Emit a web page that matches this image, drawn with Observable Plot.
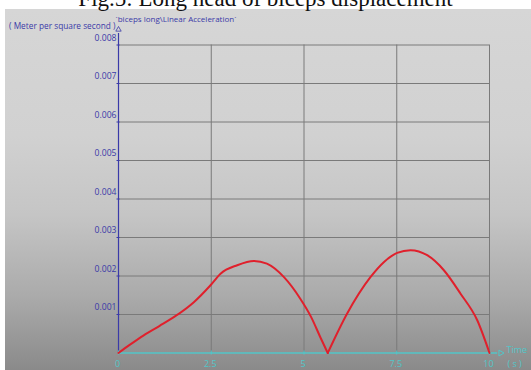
<!DOCTYPE html>
<html>
<head>
<meta charset="utf-8">
<script src="https://cdn.jsdelivr.net/npm/d3@7"></script>
<script src="https://cdn.jsdelivr.net/npm/@observablehq/plot@0.6"></script>
<style>
  body { margin: 0; background: #fff; }
  #wrap { position: relative; width: 531px; height: 370px; overflow: hidden; }
  #panel {
    position: absolute; left: 5px; top: 9px; right: 0; bottom: 0;
    background: linear-gradient(to bottom, #d6d6d6 0%, #d1d1d1 35%, #c5c5c5 57%, #aaaaaa 80%, #8a8a8a 100%);
  }
  #caption {
    position: absolute; left: 0; width: 531px; top: -13px; text-align: center;
    font: 23px/23px "Liberation Serif", serif; color: #111; white-space: nowrap;
  }
  #chart { position: absolute; left: 0; top: 0; }
</style>
</head>
<body>
<div id="wrap">
  <div id="panel"></div>
  <div id="caption">Fig.5: Long head of biceps displacement</div>
  <div id="chart"></div>
</div>
<script>
// Linear acceleration of the long head of biceps, first swing (t = 0 .. cusp)
const swing1Time  = [0, 0.3, 0.68, 1.1, 1.49, 2.03, 2.48, 2.75, 3.2, 3.65, 4.0, 4.46, 4.9, 5.2, 5.44, 5.64];
const swing1Accel = [0, 0.00021, 0.00046, 0.0007, 0.00093, 0.00132, 0.00176, 0.00206, 0.00228, 0.00239, 0.00232, 0.00197, 0.00141, 0.00092, 0.00041, 0];
// second swing (cusp .. t = 10)
const swing2Time  = [5.64, 6.16, 6.79, 7.15, 7.51, 7.87, 8.32, 8.77, 9.22, 9.67, 10];
const swing2Accel = [0, 0.00102, 0.00197, 0.00236, 0.0026, 0.00267, 0.00254, 0.00215, 0.00154, 0.00085, 0];

const yTicks = [0.001, 0.002, 0.003, 0.004, 0.005, 0.006, 0.007, 0.008];
const yTickLabels = ["0.001", "0.002", "0.003", "0.004", "0.005", "0.006", "0.007", "0.008"];
const xTicks = [0, 2.5, 5, 7.5, 10];
const xTickLabels = ["0", "2.5", "5", "7.5", "10"];
const unitLabel = "( Meter per square second )";
const seriesLabel = "`biceps long\\Linear Acceleration`";
const xName = "Time";
const xUnit = "( s )";

const blue = "#3a3aa8";
const cyan = "#52c6c8";
const grid = "#7a7a7a";
const red = "#e0202c";

const swing = (ts, vs, id) => ts.map((t, i) => ({t, v: vs[i], id}));
const series = [...swing(swing1Time, swing1Accel, 1), ...swing(swing2Time, swing2Accel, 2)];
const yTickData = yTicks.map((v, i) => ({v, label: yTickLabels[i]}));
const xTickData = xTicks.map((t, i) => ({t, label: xTickLabels[i]}));

const font = "'Open Sans', 'Liberation Sans', sans-serif";

const chart = Plot.plot({
  width: 531,
  height: 370,
  marginLeft: 118,
  marginRight: 42,
  marginTop: 44.5,
  marginBottom: 17.5,
  style: {background: "transparent", fontFamily: font, fontSize: "9px", overflow: "visible"},
  x: {domain: [0, 10], axis: null},
  y: {domain: [0, 0.008], axis: null},
  marks: [
    // grid
    Plot.ruleY(yTicks, {x1: 0, x2: 10, stroke: grid, strokeWidth: 1}),
    Plot.ruleX(xTicks.filter(t => t > 0), {y1: 0, y2: 0.008, stroke: grid, strokeWidth: 1}),
    // value axis with arrow head
    Plot.ruleX([0], {y1: 0, y2: 0.0083, stroke: blue, strokeWidth: 1.2}),
    Plot.dot([0.0084], {x: 0, y: d => d, symbol: "triangle", r: 2, stroke: blue, fill: "none", strokeWidth: 0.8}),
    Plot.ruleY(yTicks, {x1: 0, x2: 0, insetLeft: -1.5, insetRight: -1.5, stroke: blue}),
    Plot.text(yTickData, {x: 0, y: "v", text: "label", textAnchor: "end", lineAnchor: "bottom", dx: -2, dy: -4.5, fill: blue, fontSize: 8.6}),
    // time axis with arrow head
    Plot.ruleY([0], {x1: 0, x2: 10.22, stroke: cyan, strokeWidth: 1.5}),
    Plot.ruleX(xTicks, {y1: 0, y2: 0, insetTop: -2, insetBottom: -2, stroke: cyan}),
    Plot.dot([10.3], {x: d => d, y: 0, symbol: "triangle", rotate: 90, r: 2.2, stroke: cyan, fill: "none", strokeWidth: 1}),
    Plot.text(xTickData, {x: "t", y: 0, text: "label", lineAnchor: "bottom", dy: 14, dx: -1, fill: cyan, fontSize: 9}),
    Plot.text([xName], {x: 10, y: 0, text: d => d, textAnchor: "start", lineAnchor: "bottom", dx: 17, dy: 0, fill: cyan, fontSize: 9}),
    Plot.text([xUnit], {x: 10, y: 0, text: d => d, textAnchor: "start", lineAnchor: "bottom", dx: 18, dy: 14, fill: cyan, fontSize: 9}),
    // titles above the value axis
    Plot.text([unitLabel], {frameAnchor: "top-left", text: d => d, textAnchor: "end", lineAnchor: "bottom", dx: -3, dy: -16.5, fill: blue, fontSize: 8.3}),
    Plot.text([seriesLabel], {frameAnchor: "top-left", text: d => d, textAnchor: "start", lineAnchor: "bottom", dx: -3, dy: -23.5, fill: blue, fontSize: 8}),
    // acceleration curve
    Plot.line(series, {x: "t", y: "v", z: "id", curve: "monotone-x", stroke: red, strokeWidth: 2})
  ]
});
document.getElementById("chart").append(chart);
</script>
</body>
</html>
